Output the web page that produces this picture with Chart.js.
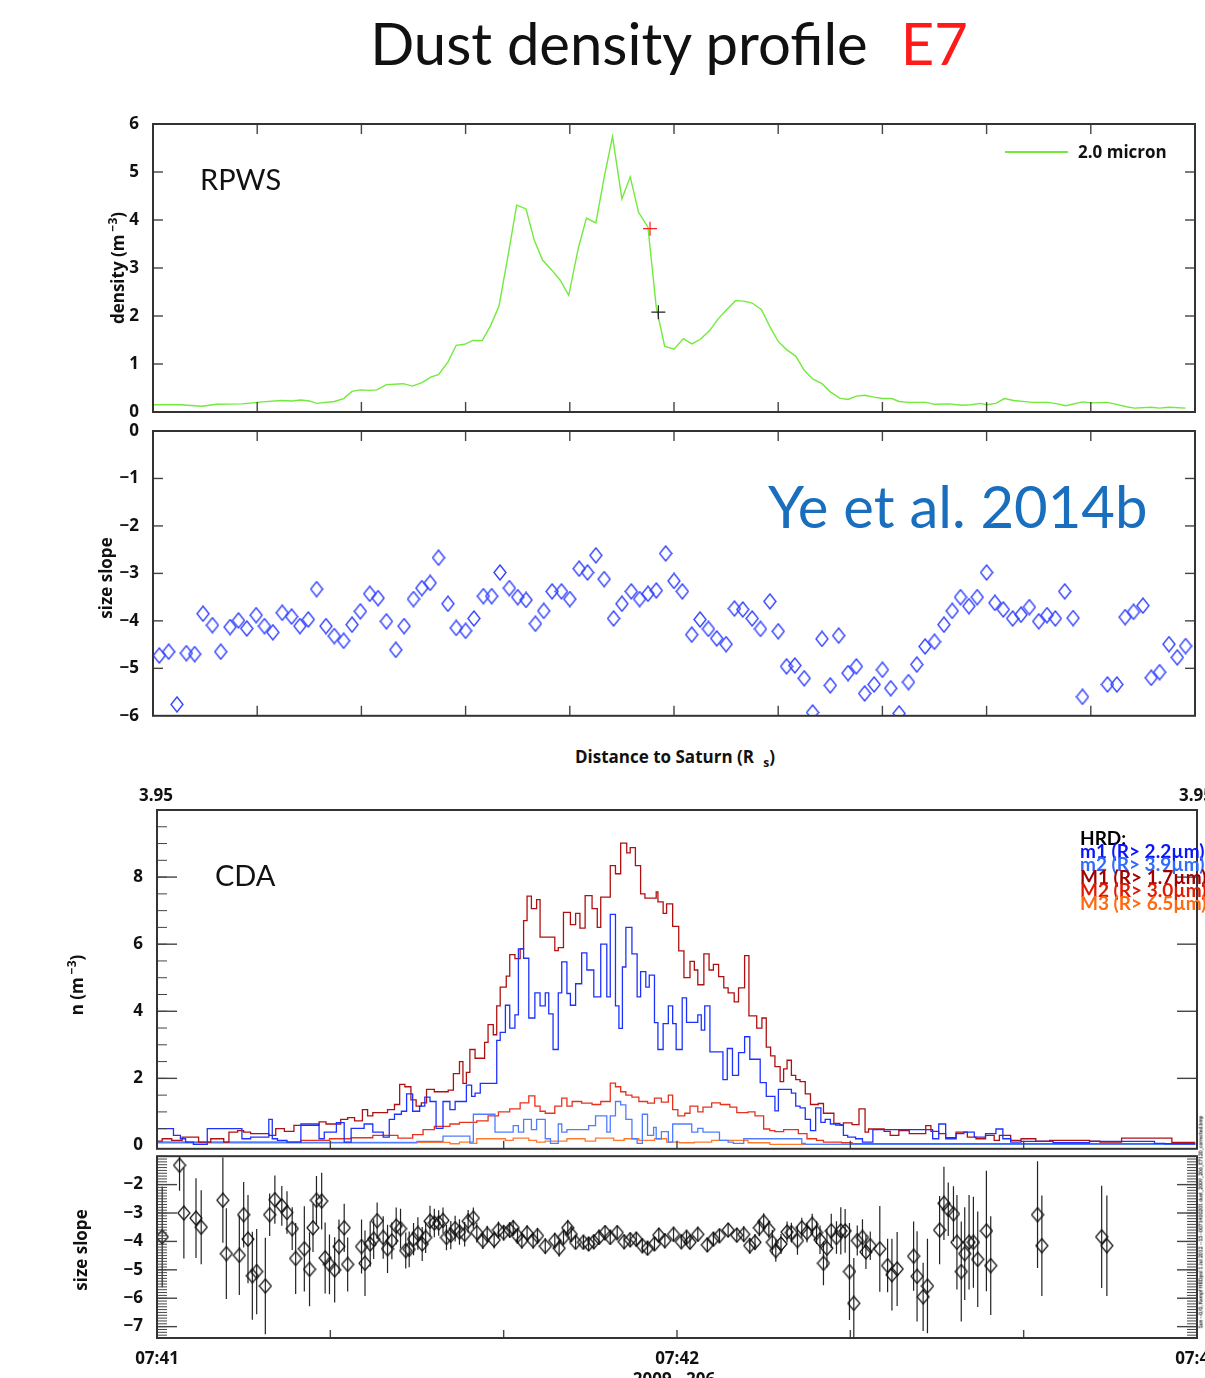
<!DOCTYPE html>
<html>
<head>
<meta charset="utf-8">
<script src="https://cdn.jsdelivr.net/npm/chart.js@4.4.0/dist/chart.umd.min.js"></script>
<style>
  html, body { margin: 0; padding: 0; background: #fff; overflow: hidden; }
  #page { position: relative; width: 1205px; height: 1378px; overflow: hidden; font-family: Lato, "Open Sans", sans-serif; color: #111; }
  canvas { position: absolute; left: 0; }
  .t { position: absolute; white-space: nowrap; line-height: 1; }
  .b { font-family: "Open Sans", sans-serif; font-weight: 700; font-size: 17px; }
  .rot { transform: translate(-50%, -50%) rotate(-90deg); }
  .mid { transform: translateX(-50%); }
  sup, sub { font-size: 12px; line-height: 0; }
  #hrd { left: 1080px; top: 831px; font-size: 19px; line-height: 13px; font-weight: bold; }
</style>
</head>
<body>
<div id="page">
  <canvas id="rpws" width="1205" height="330" style="top:100px"></canvas>
  <canvas id="slope" width="1205" height="320" style="top:412px"></canvas>
  <canvas id="cda" width="1205" height="375" style="top:790px"></canvas>
  <canvas id="cdaSlope" width="1205" height="238" style="top:1140px"></canvas>

  <div class="t mid" style="left:669px; top:14px; font-size:58px;">Dust density profile<span style="color:#ff1a1a; margin-left:33px">E7</span></div>
  <div class="t" style="left:200px; top:164px; font-size:29px;">RPWS</div>
  <div class="t" style="left:215px; top:860px; font-size:29px;">CDA</div>
  <div class="t" style="left:768px; top:477px; font-size:58px; color:#1a6ebe;">Ye et al. 2014b</div>

  <div class="t" style="left:1005px; top:151px; width:63px; height:2px; background:#72ea3c;"></div>
  <div class="t b" style="left:1078px; top:143px;">2.0 micron</div>

  <div class="t b rot" style="left:117px; top:268px;">density (m<sup>&nbsp;&minus;3</sup>)</div>
  <div class="t b rot" style="left:105px; top:578px;">size slope</div>
  <div class="t b mid" style="left:675px; top:748px;">Distance to Saturn (R<sub>&nbsp;&nbsp;&nbsp;s</sub>)</div>
  <div class="t b mid" style="left:156px; top:786px;">3.95</div>
  <div class="t b mid" style="left:1196px; top:786px;">3.95</div>
  <div class="t b rot" style="left:76px; top:985px;">n (m<sup>&nbsp;&minus;3</sup>)</div>
  <div class="t b rot" style="left:80px; top:1250px;">size slope</div>
  <div class="t b mid" style="left:674px; top:1370px;">2009 - 206</div>

  <div class="t" id="hrd">
    <div style="color:#000">HRD:</div>
    <div style="color:#0a14ff">m1 (R&gt; 2.2&micro;m)</div>
    <div style="color:#2f6bff">m2 (R&gt; 3.9&micro;m)</div>
    <div style="color:#a00000">M1 (R&gt; 1.7&micro;m)</div>
    <div style="color:#e01a00">M2 (R&gt; 3.0&micro;m)</div>
    <div style="color:#ff6a10">M3 (R&gt; 6.5&micro;m)</div>
  </div>
  <div class="t rot" style="left:1201px; top:1222px; font-size:5px; font-weight:bold;">Sun --0/0, Kempf HRDpol 1 Jul 2012 --13--0071400201 dust_2009_206_E7120_corrected.bmp</div>
</div>

<script>
// RPWS dust density along the E7 pass: [distance tick units, density m^-3]
const rpws = [
  [0,0.15],[0.26,0.15],[0.47,0.12],[0.61,0.16],[0.85,0.17],[1.05,0.21],[1.23,0.24],[1.33,0.23],[1.42,0.25],[1.50,0.23],
  [1.57,0.18],[1.74,0.22],[1.83,0.28],[1.91,0.43],[1.99,0.46],[2.08,0.45],[2.15,0.46],[2.24,0.57],[2.40,0.59],[2.49,0.54],
  [2.58,0.61],[2.67,0.73],[2.74,0.78],[2.83,1.04],[2.91,1.39],[2.99,1.41],[3.07,1.49],[3.16,1.49],[3.24,1.80],[3.32,2.20],
  [3.41,3.29],[3.49,4.31],[3.58,4.23],[3.66,3.57],[3.74,3.16],[3.83,2.95],[3.91,2.74],[3.99,2.43],[4.08,3.40],[4.16,4.04],
  [4.25,3.94],[4.33,4.89],[4.41,5.74],[4.50,4.44],[4.58,4.90],[4.66,4.16],[4.75,3.85],[4.83,2.18],[4.91,1.37],[5.00,1.31],
  [5.09,1.53],[5.17,1.42],[5.25,1.51],[5.34,1.69],[5.42,1.93],[5.50,2.12],[5.59,2.32],[5.67,2.31],[5.75,2.27],[5.84,2.13],
  [5.92,1.78],[6.00,1.47],[6.08,1.30],[6.17,1.16],[6.25,0.87],[6.33,0.69],[6.42,0.59],[6.50,0.42],[6.59,0.29],[6.67,0.26],
  [6.75,0.33],[6.83,0.35],[6.92,0.31],[7.00,0.28],[7.09,0.28],[7.16,0.22],[7.25,0.20],[7.42,0.20],[7.50,0.16],[7.64,0.17],
  [7.76,0.14],[7.85,0.15],[7.94,0.18],[8.00,0.15],[8.09,0.18],[8.17,0.28],[8.26,0.24],[8.44,0.20],[8.59,0.20],[8.68,0.17],
  [8.76,0.13],[8.92,0.21],[9.01,0.19],[9.16,0.20],[9.25,0.16],[9.34,0.11],[9.42,0.08],[9.58,0.10],[9.66,0.08],[9.75,0.10],
  [9.91,0.08]
];
const redCross = [4.77, 3.82];
const blackCross = [4.85, 2.08];

// size distribution slope from RPWS
const rpwsSlope = [
  [0.06,-4.73],[0.15,-4.65],[0.23,-5.76],[0.32,-4.68],[0.40,-4.70],[0.48,-3.85],[0.57,-4.09],[0.65,-4.65],[0.74,-4.13],[0.82,-3.99],
  [0.90,-4.16],[0.99,-3.88],[1.07,-4.11],[1.15,-4.24],[1.24,-3.83],[1.33,-3.91],[1.41,-4.11],[1.49,-3.97],[1.57,-3.33],[1.66,-4.11],
  [1.74,-4.32],[1.83,-4.42],[1.91,-4.08],[1.99,-3.80],[2.08,-3.43],[2.16,-3.52],[2.24,-4.01],[2.33,-4.61],[2.41,-4.11],[2.50,-3.54],
  [2.58,-3.31],[2.66,-3.20],[2.74,-2.67],[2.83,-3.64],[2.91,-4.15],[3.00,-4.21],[3.08,-3.95],[3.17,-3.48],[3.25,-3.48],[3.33,-2.98],
  [3.42,-3.31],[3.50,-3.50],[3.58,-3.56],[3.67,-4.06],[3.75,-3.79],[3.83,-3.38],[3.92,-3.38],[4.00,-3.54],[4.09,-2.90],[4.17,-2.98],
  [4.25,-2.62],[4.33,-3.12],[4.42,-3.95],[4.50,-3.64],[4.59,-3.38],[4.67,-3.54],[4.75,-3.43],[4.83,-3.36],[4.92,-2.58],[5.00,-3.16],
  [5.08,-3.38],[5.17,-4.29],[5.25,-3.97],[5.33,-4.17],[5.41,-4.37],[5.50,-4.49],[5.58,-3.74],[5.66,-3.76],[5.75,-3.95],[5.83,-4.17],
  [5.92,-3.59],[6.00,-4.22],[6.08,-4.96],[6.16,-4.94],[6.25,-5.21],[6.33,-5.93],[6.42,-4.38],[6.50,-5.36],[6.58,-4.31],[6.67,-5.10],
  [6.75,-4.96],[6.83,-5.53],[6.92,-5.34],[7.00,-5.03],[7.08,-5.42],[7.16,-5.95],[7.25,-5.29],[7.33,-4.92],[7.41,-4.54],[7.50,-4.44],
  [7.59,-4.08],[7.67,-3.79],[7.75,-3.50],[7.83,-3.69],[7.91,-3.50],[8.00,-2.98],[8.08,-3.62],[8.16,-3.76],[8.25,-3.95],[8.33,-3.87],
  [8.41,-3.71],[8.50,-4.01],[8.58,-3.88],[8.66,-3.95],[8.75,-3.38],[8.83,-3.94],[8.92,-5.60],[9.16,-5.34],[9.25,-5.34],[9.33,-3.92],
  [9.41,-3.81],[9.50,-3.68],[9.58,-5.20],[9.66,-5.08],[9.75,-4.49],[9.83,-4.77],[9.91,-4.53]
];

// CDA HRD number densities, step histograms: [seconds after 07:41, n m^-3]
const hrdM1 = [
  [0,0.10],[0.6,0.13],[1.7,0.20],[2.9,0.15],[4.8,0.25],[6.2,0.10],[7.7,0.20],[8.3,0.10],[9.3,0.40],[10.0,0.44],
  [10.8,0.40],[12.9,0.35],[13.7,0.30],[14.7,0.50],[15.8,0.42],[18.7,0.60],[19.5,0.70],[21.2,0.64],[22.0,0.78],[22.8,0.83],
  [23.7,0.73],[24.3,1.07],[24.9,0.88],[26.6,0.98],[27.4,1.07],[28.0,1.22],[28.6,1.82],[29.3,1.75],[29.9,1.36],[30.5,1.17],
  [31.1,1.27],[32.0,1.67],[33.6,1.60],[34.2,1.65],[34.9,2.14],[35.3,2.50],[35.7,1.85],[36.1,2.18],[36.7,2.86],[37.8,2.60],
  [38.2,3.07],[38.8,3.60],[39.2,3.30],[39.6,4.16],[40.3,4.72],[40.7,5.05],[41.3,5.69],[41.9,5.57],[42.3,5.86],[42.7,6.70],
  [43.2,7.43],[43.8,7.06],[44.2,7.33],[45.9,6.21],[46.3,5.81],[46.9,5.90],[47.7,6.95],[48.3,6.58],[48.8,6.92],[49.4,6.48],
  [50.2,7.45],[50.8,7.06],[51.2,6.50],[52.3,7.40],[52.9,8.34],[53.5,8.10],[54.2,9.01],[54.6,8.72],[55.2,8.88],[55.8,8.34],
  [56.3,7.50],[57.6,7.37],[57.8,7.56],[58.4,7.26],[58.8,6.92],[59.5,7.20],[60.2,6.53],[60.8,5.80],[61.5,5.00],[62.0,5.49],
  [62.4,5.23],[63.1,4.79],[63.7,5.71],[64.2,5.23],[64.8,5.40],[65.4,5.03],[65.9,4.70],[66.6,4.55],[67.1,4.28],[67.8,4.70],
  [68.3,5.66],[69.2,3.86],[69.8,3.50],[70.3,3.80],[70.8,2.93],[71.3,2.67],[71.9,2.35],[72.3,1.90],[72.7,2.28],[73.2,2.54],
  [73.7,2.09],[74.2,1.96],[74.8,1.90],[75.4,1.54],[76.3,1.22],[76.9,1.25],[78.1,0.96],[78.8,0.66],[79.2,0.61],[80.2,0.67],
  [81.0,0.62],[81.7,1.09],[82.1,0.40],[83.9,0.49],[84.6,0.42],[85.6,0.30],[86.8,0.44],[88.7,0.35],[89.3,0.59],[90.2,0.42],
  [91.0,0.35],[92.2,0.23],[93.5,0.40],[94.5,0.25],[95.6,0.20],[96.6,0.30],[97.2,0.15],[98.5,0.30],[99.7,0.15],[101.4,0.20],
  [103.0,0.13],[107.6,0.15],[108.8,0.13],[111.3,0.10],[117.1,0.22],[117.8,0.09],[119.8,0.09]
];
const hrdm1 = [
  [0,0.05],[1.9,0.50],[2.7,0.30],[3.3,0.20],[4.2,0.10],[5.8,0.03],[9.8,0.50],[10.8,0.20],[12.9,0.25],[13.3,0.78],
  [13.9,0.20],[15.0,0.15],[16.6,0.10],[18.7,0.64],[19.3,0.20],[20.7,0.40],[21.6,0.68],[22.4,0.10],[23.9,0.51],[24.9,0.64],
  [26.1,0.40],[26.8,0.25],[27.4,0.78],[28.2,0.93],[28.8,1.02],[29.5,1.54],[30.3,1.02],[30.9,1.17],[31.5,1.44],[32.2,1.31],
  [33.0,0.51],[33.8,1.31],[34.4,1.07],[35.7,1.31],[36.3,1.80],[36.7,1.46],[37.3,1.56],[39.2,1.85],[39.6,3.13],[40.2,3.37],
  [40.7,4.18],[41.3,3.50],[41.7,3.89],[42.3,5.86],[42.9,5.58],[43.6,3.80],[44.2,4.55],[44.8,4.16],[45.2,4.55],[45.7,3.92],
  [46.3,2.86],[46.7,4.55],[47.3,5.47],[47.7,4.53],[48.3,4.18],[49.0,4.82],[49.6,5.74],[50.4,5.23],[51.2,4.43],[51.9,6.00],
  [52.3,4.43],[52.9,6.89],[53.3,4.16],[53.7,3.49],[54.1,5.32],[54.8,6.50],[55.4,5.71],[55.8,4.43],[56.4,5.18],[56.8,4.72],
  [57.4,5.08],[57.8,3.66],[58.4,2.86],[59.0,3.63],[59.5,4.16],[59.9,3.63],[60.6,2.86],[61.1,4.40],[62.4,3.67],[62.8,3.89],
  [63.2,3.44],[63.8,4.16],[65.3,2.79],[65.8,1.96],[66.4,2.89],[67.1,2.09],[67.8,2.77],[68.4,3.24],[69.6,2.57],[70.3,1.87],
  [71.3,1.46],[71.7,1.03],[73.2,1.67],[73.7,1.56],[74.2,1.17],[74.8,1.12],[75.4,0.78],[76.0,0.44],[76.6,1.12],[77.1,0.69],
  [77.7,0.78],[78.3,0.64],[79.2,0.61],[79.7,0.30],[80.6,0.25],[81.4,0.20],[82.6,0.10],[89.5,0.47],[90.2,0.20],[91.0,0.64],
  [92.2,0.20],[93.1,0.35],[94.3,0.40],[95.6,0.25],[96.8,0.35],[97.6,0.49],[98.5,0.20],[99.7,0.10],[103.4,0.12],[107.6,0.08],
  [115.1,0.12],[116.3,0.06],[119.8,0.05]
];
const hrdm2 = [
  [0,0.03],[30.0,0.08],[33.0,0.12],[36.1,0.28],[36.5,0.10],[39.0,0.93],[41.1,0.40],[41.7,0.59],[42.3,0.40],[43.2,0.78],
  [43.8,0.47],[44.8,0.78],[45.4,0.20],[46.3,0.06],[46.7,0.64],[47.3,0.40],[49.8,0.47],[50.6,0.59],[51.9,0.88],[52.3,0.40],
  [52.9,0.88],[53.5,1.31],[54.1,1.21],[54.8,0.78],[55.4,0.20],[56.0,0.06],[56.6,0.93],[57.3,0.30],[57.6,0.54],[58.2,0.20],
  [59.0,0.41],[59.5,0.10],[61.7,0.64],[62.4,0.40],[63.0,0.51],[64.9,0.40],[65.9,0.15],[66.5,0.10],[67.7,0.06],[74.4,0.20],
  [74.8,0.06],[79.8,0.03],[119.8,0.03]
];
const hrdM2 = [
  [0,0.05],[16.6,0.10],[19.9,0.15],[22.4,0.20],[24.9,0.23],[27.8,0.30],[29.5,0.22],[30.7,0.32],[32.0,0.47],[33.8,0.57],
  [34.9,0.64],[36.9,0.69],[38.2,0.73],[39.4,0.88],[40.7,1.00],[41.9,1.09],[42.9,1.27],[43.6,1.48],[44.2,1.17],[44.8,1.02],
  [45.9,0.96],[46.7,1.17],[47.3,1.41],[47.9,1.17],[49.0,1.31],[50.2,1.26],[51.2,1.22],[52.3,1.31],[52.9,1.86],[53.5,1.75],
  [54.1,1.60],[54.8,1.50],[55.6,1.44],[56.6,1.31],[57.4,1.26],[58.2,1.41],[59.0,1.29],[59.5,1.50],[60.1,1.07],[60.9,0.88],
  [61.5,0.96],[62.4,1.17],[63.0,1.00],[64.0,1.14],[65.0,1.27],[66.1,1.22],[66.9,1.14],[68.2,0.98],[69.0,1.00],[70.0,0.88],
  [70.7,0.49],[71.3,0.44],[72.3,0.41],[74.0,0.47],[75.0,0.35],[76.1,0.20],[76.9,0.15],[79.0,0.10],[80.2,0.08],[82.3,0.05],
  [119.8,0.05]
];
const hrdM3 = [
  [0,0.02],[33.8,0.09],[34.9,0.05],[36.1,0.10],[36.9,0.06],[40.2,0.20],[41.1,0.15],[42.9,0.22],[43.8,0.15],[44.8,0.10],
  [47.3,0.13],[49.4,0.20],[50.6,0.13],[52.7,0.22],[53.9,0.15],[55.6,0.20],[57.4,0.15],[58.8,0.20],[60.3,0.10],[62.0,0.08],
  [64.0,0.10],[68.2,0.15],[70.7,0.08],[72.3,0.03],[119.8,0.03]
];

// CDA size slope with error: [seconds after 07:41, slope, half error]
const cdaSlope = [
  [0.6,-3.84,1.77],[2.6,-1.32,0.9],[3.1,-3.00,1.6],[4.5,-3.18,1.4],[5.1,-3.50,1.3],[7.6,-2.55,1.5],[8.0,-4.43,1.6],[9.5,-4.49,1.4],
  [10.0,-3.06,1.15],[10.5,-3.92,1.55],[11.0,-5.21,1.55],[11.5,-5.06,1.5],[12.5,-5.57,1.7],[13.0,-3.06,0.75],[13.6,-2.53,0.85],[14.4,-2.75,0.7],
  [15.0,-2.98,0.75],[15.6,-3.55,0.75],[16.0,-4.60,1.25],[17.0,-4.26,1.5],[17.6,-4.98,1.3],[18.0,-3.52,0.85],[18.4,-2.55,0.85],[19.0,-2.58,1.0],
  [19.4,-4.58,1.25],[19.9,-4.81,1.05],[20.5,-5.00,1.15],[21.0,-4.18,0.95],[21.6,-3.52,0.85],[22.0,-4.81,0.95],[23.6,-4.18,0.95],[24.0,-4.77,1.15],
  [24.6,-4.09,0.8],[25.0,-3.92,0.7],[25.4,-3.27,0.64],[26.1,-3.86,0.75],[26.6,-4.26,0.85],[27.1,-3.98,0.65],[27.6,-3.46,0.65],[28.1,-3.55,0.7],
  [28.7,-4.32,0.63],[29.1,-4.28,0.63],[29.6,-3.92,0.57],[30.1,-3.72,0.57],[30.6,-4.09,0.6],[31.0,-3.86,0.55],[31.5,-3.29,0.55],[32.0,-3.35,0.5],
  [32.5,-3.35,0.45],[33.0,-3.26,0.45],[33.4,-3.86,0.45],[33.9,-3.78,0.5],[34.4,-3.55,0.45],[34.9,-3.67,0.45],[35.5,-3.75,0.43],[35.9,-3.29,0.4],
  [36.5,-3.18,0.37],[36.9,-3.69,0.35],[37.6,-3.97,0.3],[38.1,-3.75,0.3],[38.9,-3.95,0.3],[39.4,-3.60,0.3],[40.0,-3.69,0.28],[40.7,-3.60,0.28],
  [41.1,-3.52,0.28],[41.6,-3.80,0.28],[42.1,-3.97,0.28],[42.7,-3.71,0.28],[43.4,-3.97,0.28],[43.9,-3.80,0.28],[44.8,-4.17,0.28],[45.9,-3.97,0.28],
  [46.4,-4.24,0.3],[46.9,-3.86,0.28],[47.4,-3.52,0.28],[47.8,-3.75,0.28],[48.3,-4.03,0.25],[49.2,-4.03,0.25],[49.8,-4.09,0.25],[50.4,-4.01,0.25],
  [51.0,-3.86,0.25],[51.7,-3.69,0.25],[52.3,-3.86,0.25],[53.1,-3.69,0.25],[53.9,-4.01,0.25],[54.6,-3.94,0.25],[55.3,-3.92,0.25],[56.0,-4.15,0.25],
  [56.6,-4.24,0.25],[57.4,-4.09,0.25],[57.9,-3.78,0.25],[58.6,-3.97,0.25],[59.6,-3.75,0.25],[60.5,-4.01,0.25],[61.1,-3.86,0.25],[61.5,-4.03,0.25],
  [62.4,-3.75,0.25],[63.5,-4.12,0.25],[64.2,-3.92,0.25],[64.9,-3.80,0.25],[65.9,-3.60,0.25],[66.9,-3.78,0.25],[67.7,-3.75,0.28],[68.4,-4.15,0.28],
  [69.0,-4.03,0.28],[69.5,-3.52,0.3],[70.0,-3.31,0.3],[70.6,-3.58,0.3],[71.0,-4.03,0.43],[71.4,-4.32,0.4],[72.0,-4.09,0.35],[72.7,-3.67,0.37],
  [73.2,-3.69,0.35],[73.9,-3.97,0.5],[74.4,-3.52,0.35],[75.0,-3.69,0.35],[75.6,-3.40,0.37],[76.1,-3.69,0.4],[76.5,-3.94,0.5],[76.9,-4.77,0.77],
  [77.3,-4.24,0.68],[77.8,-3.63,0.6],[78.4,-3.86,0.57],[78.9,-3.63,0.83],[79.4,-3.63,0.77],[79.9,-5.06,1.71],[80.4,-6.18,1.6],[80.8,-3.97,0.53],
  [81.4,-3.86,0.64],[81.8,-4.37,0.6],[82.3,-4.15,0.5],[83.4,-4.26,1.51],[84.3,-4.85,0.94],[84.8,-5.17,1.26],[85.4,-4.97,1.3],[87.3,-4.52,1.22],
  [87.7,-5.23,1.59],[88.4,-5.95,1.2],[88.9,-5.57,1.66],[90.3,-3.60,1.2],[90.8,-2.66,1.29],[91.3,-2.87,0.94],[91.9,-3.03,0.97],[92.3,-4.03,1.66],
  [92.8,-5.06,1.76],[93.2,-4.43,1.63],[93.7,-4.03,1.66],[94.2,-4.03,1.6],[94.7,-4.63,1.68],[95.7,-3.63,2.12],[96.2,-4.85,1.74],[101.6,-3.06,1.88],
  [102.1,-4.15,1.77],[109.0,-3.84,1.8],[109.6,-4.15,1.77]
];

const distTicks = [1, 2, 3, 4, 5, 6, 7, 8, 9];
const timeTicks = [0, 60, 120];
const timeLabels = ['07:41', '07:42', '07:43'];
const timeMinor = [20, 40, 60, 80, 100];

Chart.defaults.font.family = '"Open Sans", sans-serif';
Chart.defaults.font.size = 17;
Chart.defaults.font.weight = 700;
Chart.defaults.color = '#111';
const tickFont = { family: '"Open Sans", sans-serif', size: 17, weight: 700 };

const minus = v => (v < 0 ? '\u2212' + Math.abs(v) : String(v));
const range = (a, b, s) => { const r = []; for (let v = a; v <= b + 1e-9; v += s) r.push(Math.round(v * 100) / 100); return r; };

// box frame with inward tick marks, IDL style
const frame = {
  id: 'frame',
  afterDatasetsDraw(chart, args, o) {
    const { ctx, chartArea: a, scales: { x, y } } = chart;
    ctx.save();
    ctx.strokeStyle = '#444';
    ctx.lineWidth = 1.4;
    const seg = (x0, y0, x1, y1) => { ctx.beginPath(); ctx.moveTo(x0, y0); ctx.lineTo(x1, y1); ctx.stroke(); };
    (o.xTicks || []).forEach(v => {
      const p = x.getPixelForValue(v);
      seg(p, a.bottom, p, a.bottom - o.xLen);
      if (o.xTop) seg(p, a.top, p, a.top + o.xLen);
    });
    (o.yTicks || []).forEach(v => {
      const p = y.getPixelForValue(v);
      seg(a.left, p, a.left + o.yLen, p);
      seg(a.right, p, a.right - o.yLen, p);
    });
    ctx.lineWidth = 1;
    (o.yMinor || []).forEach(v => {
      const p = y.getPixelForValue(v);
      seg(a.left, p, a.left + o.minorLen, p);
      if (o.minorRight) seg(a.right, p, a.right - o.minorLen, p);
    });
    ctx.lineWidth = 2;
    ctx.strokeStyle = '#333';
    ctx.strokeRect(a.left, a.top, a.width, a.height);
    ctx.restore();
  }
};

// vertical error bars for the CDA slope points
const errBars = {
  id: 'errBars',
  beforeDatasetsDraw(chart) {
    const { ctx, chartArea: a, scales: { x, y } } = chart;
    ctx.save();
    ctx.beginPath();
    ctx.rect(a.left, a.top, a.width, a.height);
    ctx.clip();
    ctx.strokeStyle = '#222';
    ctx.lineWidth = 1.2;
    cdaSlope.forEach(([t, v, e]) => {
      const px = x.getPixelForValue(t);
      ctx.beginPath();
      ctx.moveTo(px, y.getPixelForValue(v + e));
      ctx.lineTo(px, y.getPixelForValue(v - e));
      ctx.stroke();
    });
    ctx.restore();
  }
};

function diamond(color, w, h, lw) {
  const c = document.createElement('canvas');
  c.width = w + 2; c.height = h + 2;
  const g = c.getContext('2d');
  g.strokeStyle = color;
  g.lineWidth = lw;
  g.beginPath();
  g.moveTo(w / 2 + 1, 1);
  g.lineTo(w + 1, h / 2 + 1);
  g.lineTo(w / 2 + 1, h + 1);
  g.lineTo(1, h / 2 + 1);
  g.closePath();
  g.stroke();
  return c;
}

function yAxis(min, max, ticks, width) {
  return {
    min, max,
    grid: { display: false },
    border: { display: false },
    afterBuildTicks: s => { s.ticks = ticks.map(v => ({ value: v })); },
    ticks: { padding: 6, font: tickFont, color: '#111', callback: minus },
    afterFit: s => { s.width = width; }
  };
}

const base = {
  responsive: false,
  animation: false,
  events: []
};

const xy = pts => pts.map(([x, y]) => ({ x, y }));

new Chart(document.getElementById('rpws'), {
  type: 'line',
  data: {
    datasets: [
      { type: 'scatter', data: [{ x: redCross[0], y: redCross[1] }], pointStyle: 'cross', pointRadius: 7, borderColor: '#ff2020', borderWidth: 1.2 },
      { type: 'scatter', data: [{ x: blackCross[0], y: blackCross[1] }], pointStyle: 'cross', pointRadius: 7, borderColor: '#222', borderWidth: 1.2 },
      { data: xy(rpws), borderColor: '#72ea3c', borderWidth: 1.4, pointRadius: 0 }
    ]
  },
  options: {
    ...base,
    layout: { padding: { top: 24, right: 10, bottom: 18, left: 0 } },
    plugins: {
      legend: { display: false }, tooltip: { enabled: false },
      frame: { xTicks: distTicks, xLen: 10, xTop: true, yTicks: [1, 2, 3, 4, 5], yLen: 10 }
    },
    scales: {
      x: { type: 'linear', min: 0, max: 10, display: false },
      y: yAxis(0, 6, [0, 1, 2, 3, 4, 5, 6], 153)
    }
  },
  plugins: [frame]
});

new Chart(document.getElementById('slope'), {
  type: 'scatter',
  data: {
    datasets: [{ data: xy(rpwsSlope), pointStyle: diamond('#3344ff', 12, 15, 1.4), pointRadius: 7 }]
  },
  options: {
    ...base,
    layout: { padding: { top: 19, right: 10, bottom: 14, left: 0 } },
    plugins: {
      legend: { display: false }, tooltip: { enabled: false },
      frame: { xTicks: distTicks, xLen: 10, xTop: true, yTicks: [-1, -2, -3, -4, -5], yLen: 10 }
    },
    scales: {
      x: { type: 'linear', min: 0, max: 10, display: false },
      y: yAxis(-6, 0, [-6, -5, -4, -3, -2, -1, 0], 153)
    }
  },
  plugins: [frame]
});

const stepSet = (pts, color) => ({ data: xy(pts), borderColor: color, borderWidth: 1.3, stepped: 'after', pointRadius: 0 });

new Chart(document.getElementById('cda'), {
  type: 'line',
  data: {
    datasets: [
      stepSet(hrdm1, '#1e32ff'),
      stepSet(hrdM1, '#b01010'),
      stepSet(hrdm2, '#4f7dff'),
      stepSet(hrdM2, '#e8321e'),
      stepSet(hrdM3, '#ff7a2e')
    ]
  },
  options: {
    ...base,
    layout: { padding: { top: 20, right: 8, bottom: 13, left: 0 } },
    plugins: {
      legend: { display: false }, tooltip: { enabled: false },
      frame: { xTicks: timeMinor, xLen: 8, yTicks: [2, 4, 6, 8], yLen: 20, yMinor: range(0.5, 9.5, 0.5), minorLen: 10 }
    },
    scales: {
      x: { type: 'linear', min: 0, max: 120, display: false },
      y: yAxis(-0.1, 10, [0, 2, 4, 6, 8], 157)
    }
  },
  plugins: [frame]
});

new Chart(document.getElementById('cdaSlope'), {
  type: 'scatter',
  data: {
    datasets: [{ data: xy(cdaSlope), pointStyle: diamond('#111', 12, 14, 1.2), pointRadius: 7 }]
  },
  options: {
    ...base,
    layout: { padding: { top: 12, right: 8, bottom: 0, left: 0 } },
    plugins: {
      legend: { display: false }, tooltip: { enabled: false },
      frame: { xTicks: timeMinor, xLen: 8, yTicks: [-2, -3, -4, -5, -6, -7], yLen: 20, yMinor: range(-7.4, -1.0, 0.1), minorLen: 10, minorRight: true }
    },
    scales: {
      x: {
        type: 'linear', min: 0, max: 120,
        grid: { display: false }, border: { display: false },
        afterBuildTicks: s => { s.ticks = timeTicks.map(v => ({ value: v })); },
        ticks: { padding: 3, font: tickFont, color: '#111', maxRotation: 0, autoSkip: false, callback: v => timeLabels[timeTicks.indexOf(v)] },
        afterFit: s => { s.height = 40; s.paddingLeft = 0; s.paddingRight = 0; }
      },
      y: yAxis(-7.4, -1.0, [-7, -6, -5, -4, -3, -2], 157)
    }
  },
  plugins: [errBars, frame]
});
</script>
</body>
</html>
